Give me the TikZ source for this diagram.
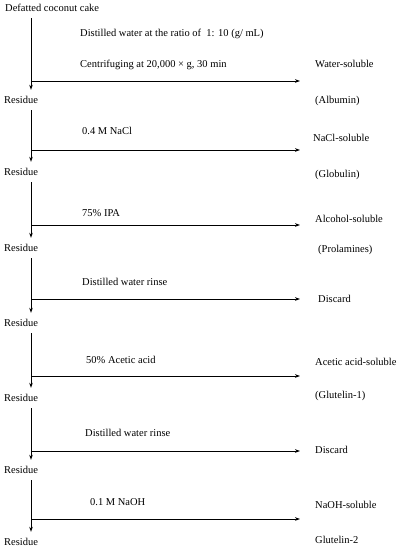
\documentclass[tikz,border=0pt]{standalone}
\usepackage{fontspec}
\setmainfont{Liberation Serif}
\usetikzlibrary{arrows.meta}

\begin{document}
\begin{tikzpicture}[
        x = 1bp, y = -1bp, % pixel grid, y pointing down
        > = {Stealth[length=5bp,width=3.6bp]}, % arrow head style
        every node/.style = {anchor=west, inner sep=0pt, text height=7bp, text depth=0pt,
                             font=\fontsize{10.5bp}{12bp}\selectfont},
        flow/.style = {->, line width=0.8bp}, % line style
        down/.style = {flow, shorten < = 6.5bp, shorten > = 6.5bp} % don't touch the text
        ]
  \useasboundingbox (0,0) rectangle (397,550);

  \coordinate (spine) at (31,0);
  \coordinate (rim) at (300,0);

  \node (cake) at (5,8) {Defatted coconut cake};

  \node (add1a) at (80,33) {Distilled water at the ratio of\ \ 1: 10 (g/ mL)};
  \node (add1b) at (80,64) {Centrifuging at 20,000 × g, 30 min};
  \node (sol1) at (315,64) {Water-soluble};
  \coordinate (j1) at (31,81);
  \node (res1) at (4,100) {Residue};
  \node (frac1) at (315,100) {(Albumin)};

  \node (add2) at (82,131) {0.4 M NaCl};
  \node (sol2) at (313,138) {NaCl-soluble};
  \coordinate (j2) at (31,150);
  \node (res2) at (4,172) {Residue};
  \node (frac2) at (315,174) {(Globulin)};

  \node (add3) at (82,213) {75\% IPA};
  \node (sol3) at (315,219) {Alcohol-soluble};
  \coordinate (j3) at (31,225);
  \node (res3) at (4,248) {Residue};
  \node (frac3) at (318,249) {(Prolamines)};

  \node (add4) at (82,282) {Distilled water rinse};
  \node (sol4) at (318,299) {Discard};
  \coordinate (j4) at (31,299);
  \node (res4) at (4,323) {Residue};

  \node (add5) at (86,360) {50\% Acetic acid};
  \node (sol5) at (315,362) {Acetic acid-soluble};
  \coordinate (j5) at (31,376);
  \node (res5) at (4,398) {Residue};
  \node (frac5) at (315,395) {(Glutelin-1)};

  \node (add6) at (85,433) {Distilled water rinse};
  \node (sol6) at (315,450) {Discard};
  \coordinate (j6) at (31,451);
  \node (res6) at (4,470) {Residue};

  \node (add7) at (90,502) {0.1 M NaOH};
  \node (sol7) at (315,505) {NaOH-soluble};
  \coordinate (j7) at (31,519);
  \node (res7) at (4,542) {Residue};
  \node (frac7) at (315,540) {Glutelin-2};

  \draw[down] (cake.south -| spine) -- (res1.north -| spine);
  \draw[down] (res1.south -| spine) -- (res2.north -| spine);
  \draw[down] (res2.south -| spine) -- (res3.north -| spine);
  \draw[down] (res3.south -| spine) -- (res4.north -| spine);
  \draw[down] (res4.south -| spine) -- (res5.north -| spine);
  \draw[down] (res5.south -| spine) -- (res6.north -| spine);
  \draw[down] (res6.south -| spine) -- (res7.north -| spine);

  \draw[flow] (j1) -- (j1 -| rim);
  \draw[flow] (j2) -- (j2 -| rim);
  \draw[flow] (j3) -- (j3 -| rim);
  \draw[flow] (j4) -- (j4 -| rim);
  \draw[flow] (j5) -- (j5 -| rim);
  \draw[flow] (j6) -- (j6 -| rim);
  \draw[flow] (j7) -- (j7 -| rim);

\end{tikzpicture}
\end{document}
